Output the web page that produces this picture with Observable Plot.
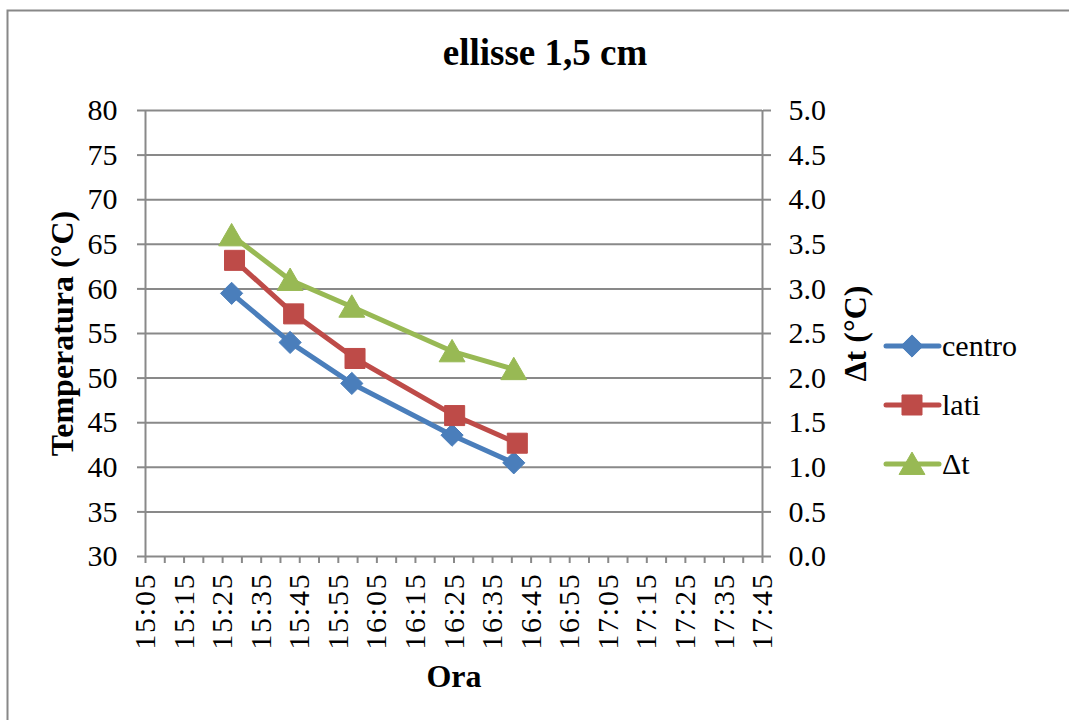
<!DOCTYPE html>
<html>
<head>
<meta charset="utf-8">
<script src="https://cdn.jsdelivr.net/npm/d3@7"></script>
<script src="https://cdn.jsdelivr.net/npm/@observablehq/plot@0.6"></script>
<style>
html, body { margin: 0; padding: 0; background: #fff; }
#chart { position: relative; width: 1069px; height: 720px; overflow: hidden; }
#chart svg { position: absolute; left: 0; top: 0; }
#chart svg text { font-family: 'Liberation Serif', 'Times New Roman', serif; }
</style>
</head>
<body>
<div id="chart"></div>
<script>
// ---- data ----
const chartTitle = "ellisse 1,5 cm";
const seriesNames = ["centro", "lati", "Δt"];
const timesCentro = ["15:27:20", "15:42:30", "15:58:30", "16:24:30", "16:40:30"];
const centro = [59.5, 54.0, 49.4, 43.6, 40.5];
const timesLati = ["15:28:05", "15:43:25", "15:59:20", "16:25:10", "16:41:25"];
const lati = [63.2, 57.2, 52.2, 45.8, 42.7];
const timesDelta = ["15:27:20", "15:42:30", "15:58:30", "16:24:30", "16:40:30"];
const deltaT = [3.6, 3.1, 2.8, 2.3, 2.1];
const leftTicks = [30, 35, 40, 45, 50, 55, 60, 65, 70, 75, 80];
const rightTickLabels = ["0.0", "0.5", "1.0", "1.5", "2.0", "2.5", "3.0", "3.5", "4.0", "4.5", "5.0"];
const xTickLabels = ["15:05", "15:15", "15:25", "15:35", "15:45", "15:55", "16:05", "16:15",
  "16:25", "16:35", "16:45", "16:55", "17:05", "17:15", "17:25", "17:35", "17:45"];
const yLabel = "Temperatura (°C)";
const y2Label = "Δt (°C)";
const xLabel = "Ora";

// ---- helpers ----
const toMin = s => { const p = s.split(":").map(Number); return p[0] * 60 + p[1] + (p[2] || 0) / 60; };
const xTickPos = xTickLabels.map(toMin);
const xLabelMap = new Map(xTickPos.map((v, i) => [v, xTickLabels[i]]));
const minorTicks = d3.range(xTickPos[0], xTickPos[xTickPos.length - 1] + 0.1, 5);
const y2Min = 30, y2Factor = 10; // right axis 0..5 -> left 30..80
const rightMap = new Map(leftTicks.map((v, i) => [v, rightTickLabels[i]]));

const colors = { "centro": "#4A7EBB", "lati": "#BE4B48", "Δt": "#98B954" };
const rows = [];
timesCentro.forEach((t, i) => rows.push({ s: "centro", x: toMin(t), y: centro[i] }));
timesLati.forEach((t, i) => rows.push({ s: "lati", x: toMin(t), y: lati[i] }));
timesDelta.forEach((t, i) => rows.push({ s: "Δt", x: toMin(t), y: y2Min + deltaT[i] * y2Factor }));
const bySeries = s => rows.filter(r => r.s === s);

const GRID = "#898989";
const FONT = "'Liberation Serif', 'Times New Roman', serif";
const R = { "centro": 10, "lati": 11.3, "Δt": 9.6 };

const plot = Plot.plot({
  width: 1069,
  height: 720,
  marginLeft: 145,
  marginRight: 307,
  marginTop: 110,
  marginBottom: 164,
  style: { fontFamily: FONT, fontSize: "30px", color: "#000", background: "transparent", overflow: "visible" },
  x: { type: "linear", domain: [xTickPos[0], xTickPos[xTickPos.length - 1]] },
  y: { domain: [leftTicks[0], leftTicks[leftTicks.length - 1]] },
  marks: [
    // gridlines
    Plot.ruleY(leftTicks.slice(1), { stroke: GRID, strokeWidth: 2 }),
    // axis lines
    Plot.ruleY([leftTicks[0]], { stroke: GRID, strokeWidth: 2 }),
    Plot.ruleX([xTickPos[0]], { stroke: GRID, strokeWidth: 2 }),
    Plot.ruleX([xTickPos[xTickPos.length - 1]], { stroke: GRID, strokeWidth: 2 }),
    // left axis
    Plot.axisY({ ticks: leftTicks, tickSize: 8, tickPadding: 20, stroke: GRID, strokeWidth: 2, fill: "#000", label: null, fontSize: 30 }),
    // right axis (Δt)
    Plot.axisY({ anchor: "right", ticks: leftTicks, tickFormat: d => rightMap.get(d), tickSize: 8, tickPadding: 18, stroke: GRID, strokeWidth: 2, fill: "#000", label: null, fontSize: 30 }),
    // bottom minor ticks
    Plot.axisX({ ticks: minorTicks, tickSize: 7, tickFormat: () => "", stroke: GRID, strokeWidth: 2, label: null }),
    // bottom labels
    Plot.axisX({ ticks: xTickPos, tickSize: 0, tickPadding: 16, tickRotate: -90, tickFormat: d => xLabelMap.get(d), fill: "#000", label: null, fontSize: 30 }),
    // series lines
    ...seriesNames.map(s => Plot.line(bySeries(s), { x: "x", y: "y", stroke: colors[s], strokeWidth: 5, strokeLinejoin: "round", strokeLinecap: "round" })),
    Plot.dot(bySeries("centro"), { x: "x", y: "y", symbol: "diamond2", r: R["centro"], fill: colors["centro"], stroke: colors["centro"], strokeWidth: 1 }),
    Plot.dot(bySeries("lati"), { x: "x", y: "y", symbol: "square", r: R["lati"], fill: colors["lati"], stroke: colors["lati"], strokeWidth: 1 }),
    Plot.dot(bySeries("Δt"), { x: "x", y: "y", symbol: "triangle", r: R["Δt"], fill: colors["Δt"], stroke: colors["Δt"], strokeWidth: 1, dy: 3 }),
    // titles
    Plot.text([chartTitle], { frameAnchor: "top", dx: 91, dy: -57, lineAnchor: "middle", textAnchor: "middle", fontWeight: "bold", fontSize: 37, fill: "#000" }),
    Plot.text([yLabel], { frameAnchor: "left", dx: -83, rotate: -90, textAnchor: "middle", lineAnchor: "middle", fontWeight: "bold", fontSize: 32, fill: "#000" }),
    Plot.text([y2Label], { frameAnchor: "right", dx: 93, rotate: -90, textAnchor: "middle", lineAnchor: "middle", fontWeight: "bold", fontSize: 32, fill: "#000" }),
    Plot.text([xLabel], { frameAnchor: "bottom", dy: 120, textAnchor: "middle", lineAnchor: "middle", fontWeight: "bold", fontSize: 32, fill: "#000" })
  ]
});

document.getElementById("chart").appendChild(plot);
const svg = d3.select(plot);
svg.selectAll("text").attr("font-family", FONT);
svg.selectAll('[aria-label="x-axis tick label"] text').style("letter-spacing", "1.8px");

// outer border
svg.append("rect").attr("x", 7.5).attr("y", 10.5).attr("width", 1100).attr("height", 800)
  .attr("fill", "none").attr("stroke", "#888").attr("stroke-width", 2);

// legend
const symbols = { "centro": d3.symbolDiamond2, "lati": d3.symbolSquare, "Δt": d3.symbolTriangle };
const lg = svg.append("g").attr("font-family", FONT).attr("font-size", 30).attr("text-anchor", "start");
seriesNames.forEach((s, i) => {
  const cy = 346 + i * 59;
  const g = lg.append("g");
  g.append("line").attr("x1", 886).attr("x2", 939).attr("y1", cy).attr("y2", cy)
    .attr("stroke", colors[s]).attr("stroke-width", 5).attr("stroke-linecap", "round");
  g.append("path").attr("d", d3.symbol(symbols[s], Math.PI * R[s] * R[s])())
    .attr("transform", `translate(912,${cy + (s === "Δt" ? 3 : 0)})`)
    .attr("fill", colors[s]).attr("stroke", colors[s]);
  g.append("text").attr("x", 942).attr("y", cy).attr("dy", "0.34em")
    .attr("text-anchor", "start").attr("fill", "#000").text(s);
});
</script>
</body>
</html>
